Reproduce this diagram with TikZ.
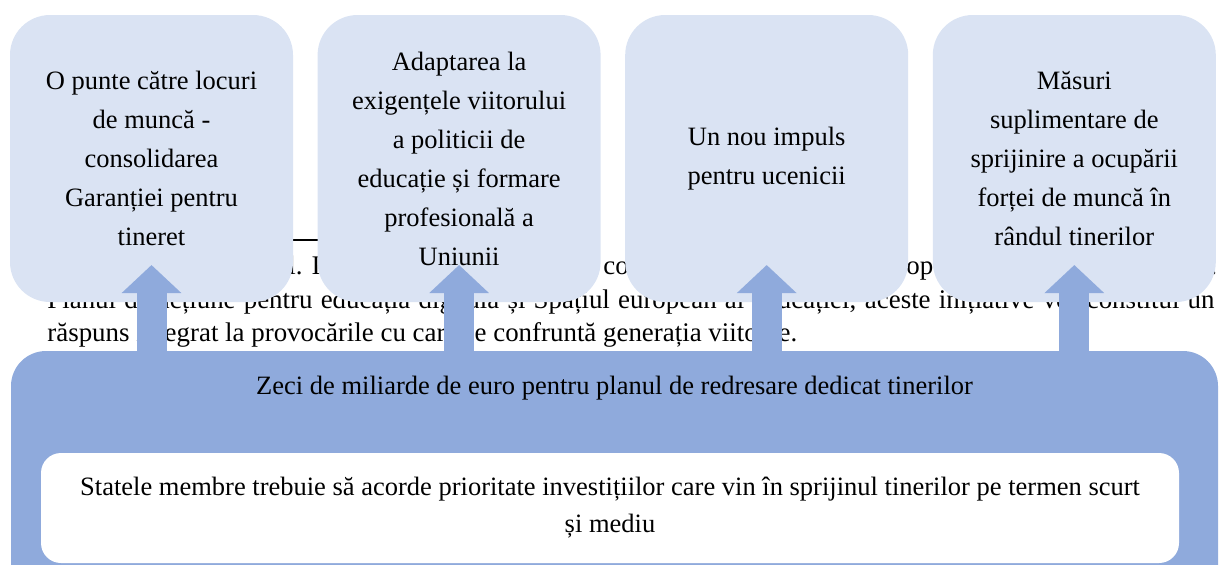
\documentclass[tikz,border=0pt]{standalone}
\usepackage{fontspec}
\setmainfont{Liberation Serif}
\usetikzlibrary{positioning, arrows.meta}
\definecolor{boxlight}{HTML}{DAE3F3}
\definecolor{boxblue}{HTML}{8FAADC}

\begin{document}
\begin{tikzpicture}[
    x=0.5pt, y=-0.5pt,
    topbox/.style={rectangle, rounded corners=20pt, fill=boxlight, inner sep=0pt, outer sep=0pt, minimum width=141.5pt, minimum height=143.5pt, text width=130pt, align=flush center, font=\fontsize{13.25pt}{19.5pt}\selectfont},
    planbox/.style={rectangle, rounded corners=17.5pt, fill=boxblue, inner sep=0pt, outer sep=0pt, minimum width=603.5pt, minimum height=130pt},
    statebox/.style={rectangle, rounded corners=10pt, fill=white, inner sep=0pt, outer sep=0pt, minimum width=569pt, minimum height=55pt, text width=560pt, align=flush center, font=\fontsize{13.25pt}{18.5pt}\selectfont},
    bgtext/.style={anchor=base west, inner sep=0pt, font=\fontsize{13.45pt}{17pt}\selectfont},
    uparrow/.style={boxblue, line width=15pt, -{Triangle[width=29pt, length=14pt]}}
]
\clip (0,0) rectangle (1225,564);

% page text behind the diagram
\draw[line width=0.6pt] (200,240) -- (318,240);
\node[bgtext] (rowa) at (288,274) {l. I};
\node[bgtext] (rowacont) at (603,274) {co};
\node[bgtext] (rowaend) at (906,274) {opu};
\node[bgtext] (rowadot) at (1210,274) {.};
\node[bgtext] (rowb) at (47,308) {\makebox[583.5pt][s]{Planul de acțiune pentru educația digitală și Spațiul european al educației, aceste inițiative vor constitui un}};
\node[bgtext] (rowc) at (47,341) {răspuns integrat la provocările cu care se confruntă generația viitoare.};

% Top boxes
\node[topbox] (jobs) at (151.5,158.5) {O punte către locuri\\de muncă -\\consolidarea\\Garanției pentru\\tineret};
\node[topbox, right=12.3pt of jobs] (skills) {Adaptarea la\\exigențele viitorului\\a politicii de\\educație și formare\\profesională a\\Uniunii};
\node[topbox, right=12.3pt of skills] (appr) {Un nou impuls\\pentru ucenicii};
\node[topbox, right=12.3pt of appr] (extra) {Măsuri\\suplimentare de\\sprijinire a ocupării\\forței de muncă în\\rândul tinerilor};

% Base box
\node[planbox, anchor=north west] (plan) at (11,351) {};
\node[anchor=base, font=\fontsize{13.25pt}{19.5pt}\selectfont] (plantitle) at ([yshift=-21.5pt]plan.north) {Zeci de miliarde de euro pentru planul de redresare dedicat tinerilor};
\node[statebox] (states) at (610,508) {Statele membre trebuie să acorde prioritate investițiilor care vin în sprijinul tinerilor pe termen scurt\\și mediu};

% Arrows
\foreach \tgt in {jobs, skills, appr, extra}
  \draw[uparrow] (\tgt |- plan.north) -- ([yshift=18.5pt]\tgt.south);

\end{tikzpicture}
\end{document}
